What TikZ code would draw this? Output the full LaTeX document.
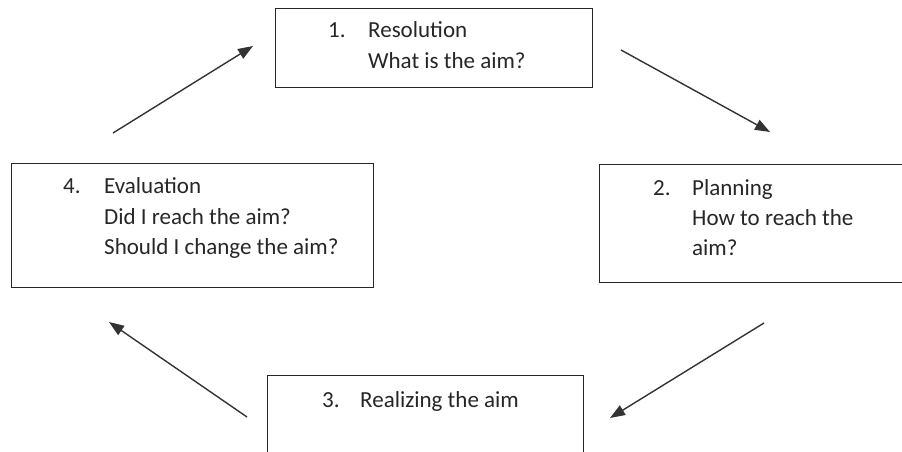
\documentclass[tikz,border=0pt]{standalone}
\usepackage{fontspec}
\setmainfont{Carlito}
\usetikzlibrary{arrows.meta}
\begin{document}
\begin{tikzpicture}[x=1pt,y=-1pt,
  box/.style={draw=black!85, line width=1.4pt, inner sep=0pt, anchor=north west},
  lbl/.style={anchor=base west, inner sep=0pt, font=\fontsize{23}{28}\selectfont, text=black!85},
  arr/.style={draw=black!80, line width=1.4pt, -{Triangle[length=15pt,width=11pt]}}]
\useasboundingbox (0,0) rectangle (902,452);
\clip (0,0) rectangle (902,452);
% boxes
\node[box, minimum width=317pt, minimum height=79pt] (b1) at (275,8) {};
\node[box, minimum width=311pt, minimum height=118pt] (b2) at (599,164) {};
\node[box, minimum width=316pt, minimum height=95pt] (b3) at (267,375) {};
\node[box, minimum width=362pt, minimum height=124pt] (b4) at (11,163) {};
% texts
\node[lbl] (t1n) at (328,38) {1.};
\node[lbl] (t1a) at (368,38) {Resolution};
\node[lbl] (t1b) at (368,68) {What is the aim?};
\node[lbl] (t2n) at (653,195) {2.};
\node[lbl] (t2a) at (692,195) {Planning};
\node[lbl] (t2b) at (692,225) {How to reach the};
\node[lbl] (t2c) at (692,255) {aim?};
\node[lbl] (t3n) at (322,407) {3.};
\node[lbl] (t3a) at (360,407) {Realizing the aim};
\node[lbl] (t4n) at (63,193) {4.};
\node[lbl] (t4a) at (104,193) {Evaluation};
\node[lbl] (t4b) at (104,224) {Did I reach the aim?};
\node[lbl] (t4c) at (104,254) {Should I change the aim?};
% arrows
\coordinate (a1s) at (113,133); \coordinate (a1e) at (253,46);
\coordinate (a2s) at (621,50);  \coordinate (a2e) at (770,132);
\coordinate (a3s) at (764,323); \coordinate (a3e) at (610,418);
\coordinate (a4s) at (247,417); \coordinate (a4e) at (109,322);
\draw[arr] (a1s) -- (a1e);
\draw[arr] (a2s) -- (a2e);
\draw[arr] (a3s) -- (a3e);
\draw[arr] (a4s) -- (a4e);
\end{tikzpicture}
\end{document}
